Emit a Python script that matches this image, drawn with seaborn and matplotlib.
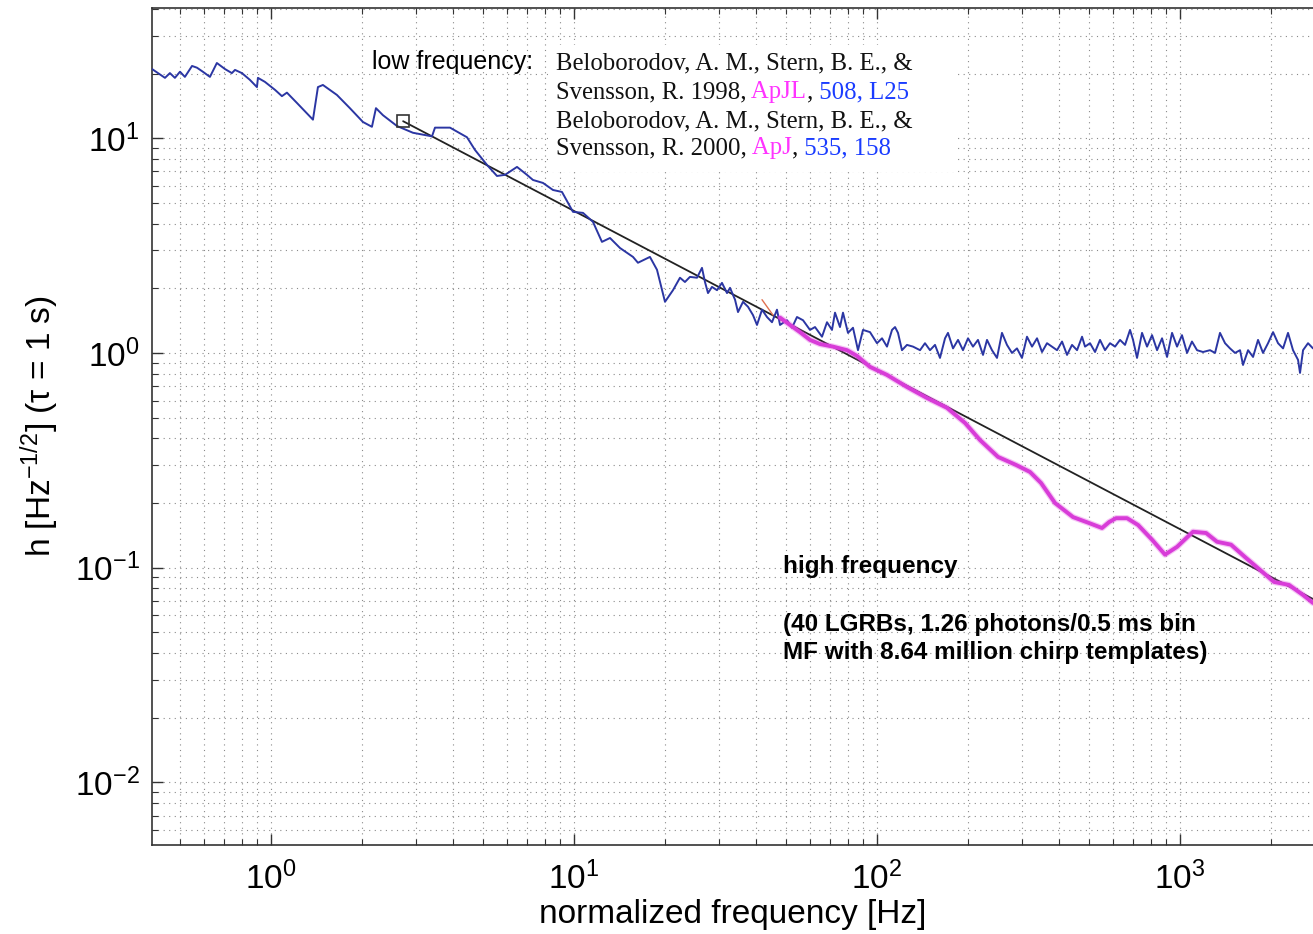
import numpy as np
import pandas as pd
import seaborn as sns
import matplotlib.pyplot as plt
from matplotlib.patches import Rectangle
from matplotlib.ticker import LogLocator, NullFormatter

# blue curve (low frequency, Beloborodov et al.)
blue_freq = [0.405, 0.447, 0.464, 0.482, 0.501, 0.520, 0.549, 0.570, 0.596, 0.629,
             0.663, 0.705, 0.743, 0.761, 0.802, 0.852, 0.899, 0.906, 0.955, 1.031,
             1.087, 1.129, 1.218, 1.376, 1.429, 1.484, 1.651, 1.822, 2.012, 2.154,
             2.221, 2.342, 2.605, 2.942, 3.400, 3.478, 3.898, 4.436, 4.713, 5.164,
             5.571, 5.920, 6.486, 6.997, 7.323, 7.902, 8.524, 9.129, 9.924, 10.71,
             11.55, 12.37, 13.15, 14.19, 15.66, 16.26, 17.81, 18.79, 19.97, 21.22,
             22.38, 23.24, 24.14, 25.47, 26.45, 27.06, 27.69, 28.54, 29.65, 30.79,
             31.99, 32.73, 34.00, 34.78, 36.13, 37.53, 38.98, 40.18, 41.74, 43.35,
             45.03, 46.77, 47.86, 50.47, 52.42, 54.45, 57.00, 60.11, 62.44, 65.85,
             68.39, 71.04, 72.68, 75.49, 77.23, 80.22, 83.33, 86.55, 89.91, 94.83,
             100, 103.9, 107.9, 112.1, 114.7, 117.3, 120.9, 125.6, 131.5, 138.7,
             144.0, 149.6, 155.4, 161.4, 167.7, 171.5, 178.2, 185.1, 192.2, 199.7,
             207.4, 215.4, 223.8, 230.7, 239.6, 248.9, 258.5, 268.5, 278.9, 289.7,
             300.9, 312.6, 324.8, 337.4, 350.4, 364.0, 378.1, 392.8, 408.0, 423.8,
             440.2, 457.3, 475.0, 485.9, 504.7, 524.3, 544.5, 565.6, 587.5, 610.3,
             633.9, 658.5, 684.0, 699.8, 721.4, 749.3, 778.4, 808.5, 839.9, 872.4,
             906.2, 941.3, 977.7, 1015, 1055, 1095, 1138, 1191, 1256, 1305,
             1355, 1408, 1462, 1519, 1578, 1614, 1677, 1742, 1809, 1879,
             1952, 2028, 2106, 2188, 2272, 2360, 2452, 2489, 2547, 2645,
             2747]
blue_h = [21.0, 19.1, 20.1, 19.1, 20.4, 19.3, 21.7, 21.3, 20.4, 19.3,
          22.4, 21.0, 20.1, 20.8, 20.1, 18.7, 17.3, 19.1, 18.3, 16.8,
          15.7, 16.3, 14.6, 12.2, 17.3, 17.7, 15.9, 13.8, 11.9, 11.3,
          13.8, 12.8, 11.4, 10.6, 10.2, 11.2, 11.2, 10.1, 8.82, 7.51,
          6.67, 6.75, 7.35, 6.75, 6.39, 6.19, 5.74, 5.62, 4.54, 4.49,
          4.08, 3.29, 3.43, 3.08, 2.80, 2.63, 2.80, 2.44, 1.73, 1.96,
          2.24, 2.14, 2.26, 2.24, 2.49, 2.14, 1.90, 2.03, 1.96, 2.12,
          1.90, 2.01, 1.77, 1.55, 1.73, 1.64, 1.50, 1.35, 1.59, 1.47,
          1.39, 1.59, 1.35, 1.42, 1.31, 1.47, 1.42, 1.28, 1.32, 1.19,
          1.39, 1.28, 1.54, 1.32, 1.54, 1.24, 1.31, 1.03, 1.28, 1.25,
          1.11, 1.17, 1.07, 1.28, 1.32, 1.24, 1.03, 1.09, 1.07, 1.03,
          1.11, 1.03, 1.09, 0.948, 1.17, 1.24, 1.05, 1.15, 1.03, 1.17,
          1.07, 1.15, 0.979, 1.15, 1.03, 0.948, 1.24, 1.09, 1.00, 1.05,
          0.948, 1.19, 1.07, 1.17, 1.01, 1.11, 1.07, 1.03, 1.13, 0.979,
          1.09, 1.03, 1.19, 1.07, 1.11, 1.01, 1.15, 1.03, 1.11, 1.07,
          1.15, 1.09, 1.28, 1.15, 0.948, 1.24, 1.07, 1.21, 1.03, 1.17,
          0.958, 1.24, 1.07, 1.21, 1.00, 1.13, 1.03, 1.01, 1.03, 1.00,
          1.24, 1.11, 1.05, 1.00, 1.03, 0.879, 1.03, 0.958, 1.15, 1.00,
          1.11, 1.25, 1.11, 1.05, 1.24, 1.03, 0.928, 0.807, 1.03, 1.11,
          1.05]

# magenta curve (high frequency, matched filtering)
mag_freq = [47.86, 51.64, 55.71, 60.11, 64.86, 71.58, 79.62, 85.90, 94.83, 107.9,
            125.6, 146.2, 170.2, 195.2, 218.8, 250.8, 287.4, 319.9, 347.8, 386.8,
            443.6, 497.3, 552.9, 583.2, 615.0, 668.6, 727.0, 808.5, 892.3, 977.7,
            1047, 1104, 1219, 1325, 1473, 1639, 1837, 2043, 2289, 2547, 2747]
mag_h = [1.46, 1.35, 1.25, 1.15, 1.10, 1.07, 1.03, 0.968, 0.861, 0.790,
         0.694, 0.617, 0.555, 0.472, 0.393, 0.328, 0.301, 0.279, 0.248, 0.200,
         0.172, 0.162, 0.153, 0.163, 0.170, 0.170, 0.158, 0.135, 0.115, 0.125,
         0.137, 0.147, 0.145, 0.132, 0.128, 0.112, 0.0976, 0.0858, 0.0831, 0.0746,
         0.0685]

# short red piece near 40 Hz
red_freq = [41.74, 45.38]
red_h = [1.77, 1.50]

# power-law reference line and its start marker
fit_freq = [2.73, 2750]
fit_h = [12.0, 0.0714]

W, H = 1313, 934
sns.set_style('ticks')
plt.rcParams['font.family'] = ['Liberation Sans', 'DejaVu Sans']
plt.rcParams['mathtext.default'] = 'regular'
for k in ['text.color', 'axes.labelcolor', 'xtick.labelcolor', 'ytick.labelcolor']:
    plt.rcParams[k] = 'black'

fig = plt.figure(figsize=(W / 100, H / 100), dpi=100)
ax = fig.add_axes([152 / W, 1 - 845 / H, (W - 152) / W, (845 - 8) / H])

blue = pd.DataFrame({'f': blue_freq, 'h': blue_h})
mag = pd.DataFrame({'f': mag_freq, 'h': mag_h})
red = pd.DataFrame({'f': red_freq, 'h': red_h})
fit = pd.DataFrame({'f': fit_freq, 'h': fit_h})

sns.lineplot(data=fit, x='f', y='h', ax=ax, color='#222222', lw=1.3, estimator=None, zorder=3)
sns.lineplot(data=blue, x='f', y='h', ax=ax, color='#2b36a3', lw=1.4, estimator=None, zorder=4)
sns.lineplot(data=mag, x='f', y='h', ax=ax, color='#e040e0', lw=4.5, alpha=0.3, estimator=None, zorder=4)
sns.lineplot(data=mag, x='f', y='h', ax=ax, color='#d83cd8', lw=2.8, estimator=None, zorder=5)
sns.lineplot(data=red, x='f', y='h', ax=ax, color='#e07050', lw=1.0, estimator=None, zorder=4)
ax.plot(fit_freq[:1], fit_h[:1], marker='s', ms=9, mfc='none', mec='#333333', mew=1.2, zorder=6)

ax.set_xscale('log')
ax.set_yscale('log')
ax.set_xlim(0.405, 2747)
ax.set_ylim(0.00511, 40.4)

ax.xaxis.set_minor_locator(LogLocator(base=10, subs=np.arange(2, 10), numticks=20))
ax.yaxis.set_minor_locator(LogLocator(base=10, subs=np.arange(2, 10), numticks=20))
ax.xaxis.set_minor_formatter(NullFormatter())
ax.yaxis.set_minor_formatter(NullFormatter())

ax.set_axisbelow(True)
ax.grid(True, which='both', color='#8a8a8a', lw=0.8, linestyle=(0, (1, 4)))
ax.tick_params(which='both', direction='in', top=True, right=False, color='#333333')
ax.tick_params(which='major', length=8, width=1.0, labelsize=24, pad=9)
ax.tick_params(axis='x', which='major', pad=12)
ax.tick_params(which='minor', length=4, width=0.8)
for s in ['left', 'bottom', 'top']:
    ax.spines[s].set_color('#333333')
    ax.spines[s].set_linewidth(1.2)
ax.spines['right'].set_visible(False)

ax.set_xlabel('normalized frequency [Hz]', fontsize=24, labelpad=2)
ax.set_ylabel('h [Hz$^{-1/2}$] (τ = 1 s)', fontsize=24, labelpad=10)

# white panel behind the references
ax.add_patch(Rectangle((548 / W, 1 - 172 / H), 407 / W, 127 / H, transform=fig.transFigure,
                       facecolor='white', edgecolor='none', zorder=1))

fig.text(372 / W, 1 - 62 / H, 'low frequency:', fontsize=18, va='center', ha='left')

black, pink, bl = '#111111', '#ff33ff', '#1a3cff'
ref_lines = [
    [('Beloborodov, A. M., Stern, B. E., &', black)],
    [('Svensson, R. 1998,', black), (' ApJL', pink), (',', black), (' 508, L25', bl)],
    [('Beloborodov, A. M., Stern, B. E., &', black)],
    [('Svensson, R. 2000,', black), (' ApJ', pink), (',', black), (' 535, 158', bl)],
]
ref_y = [63, 92, 121, 148]

renderer = fig.canvas.get_renderer()
for parts, yy in zip(ref_lines, ref_y):
    xx = 556
    for s, c in parts:
        t = fig.text(xx / W, 1 - yy / H, s, color=c, fontsize=17.8, va='center', ha='left',
                     family=['Liberation Serif', 'DejaVu Serif'])
        xx += t.get_window_extent(renderer).width

fig.text(783 / W, 1 - 567 / H, 'high frequency', fontsize=17.5, fontweight='bold', va='center')
fig.text(783 / W, 1 - 625 / H, '(40 LGRBs, 1.26 photons/0.5 ms bin', fontsize=17.5,
         fontweight='bold', va='center')
fig.text(783 / W, 1 - 652 / H, 'MF with 8.64 million chirp templates)', fontsize=17.5,
         fontweight='bold', va='center')

fig.savefig('out.png', dpi=100)
